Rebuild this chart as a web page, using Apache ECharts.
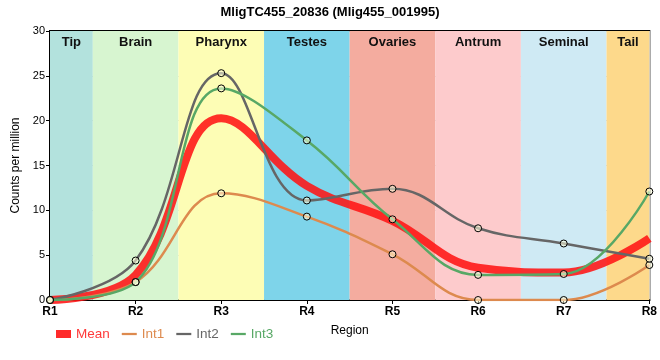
<!DOCTYPE html>
<html><head><meta charset="utf-8">
<script src="https://cdn.jsdelivr.net/npm/echarts@6/dist/echarts.min.js"></script>
<style>html,body{margin:0;padding:0;background:#fff}#c{width:660px;height:360px}</style>
</head><body><div id="c"></div>
<script>
const categories = ['R1','R2','R3','R4','R5','R6','R7','R8'];
const int1 = [0, 2.0, 11.9, 9.3, 5.1, 0, 0, 3.9];
const int2 = [0, 4.4, 25.3, 11.1, 12.4, 8.0, 6.3, 4.6];
const int3 = [0, 2.0, 23.6, 17.8, 9.0, 2.8, 2.9, 12.1];
const mean = int1.map((v,i)=> (v + int2[i] + int3[i]) / 3);
const bandNames = ['Tip','Brain','Pharynx','Testes','Ovaries','Antrum','Seminal','Tail'];
const bandStarts = [0, 0.5, 1.5, 2.5, 3.5, 4.5, 5.5, 6.5];
const bandEnds = [0.5, 1.5, 2.5, 3.5, 4.5, 5.5, 6.5, 7];
const bandColors = ['#b3e2dd','#d7f5d0','#fdfdb5','#7ed4ea','#f4ac9f','#fdcbcc','#cfeaf4','#fdd98b'];
const yTicks = [0,5,10,15,20,25,30];

const FONT = '"Liberation Sans", Arial, sans-serif';
const pts = arr => arr.map((v,i)=>[i,v]);
const SMOOTH = 0.4;
const sym = {symbol:'circle', symbolSize:7, itemStyle:{color:'rgba(255,255,220,0.55)', borderColor:'#000', borderWidth:1}};

const chart = echarts.init(document.getElementById('c'), null, {renderer:'canvas'});
chart.setOption({
  animation:false,
  textStyle:{fontFamily:FONT},
  title:{text:'MligTC455_20836 (Mlig455_001995)', left:'center', top:1,
    textStyle:{fontSize:13, fontWeight:'bold', color:'#000', fontFamily:FONT}},
  grid:{left:50, right:10, top:31, bottom:60, show:true, borderColor:'#000', borderWidth:2},
  xAxis:{type:'value', min:0, max:categories.length-1, interval:1,
    name:'Region', nameLocation:'middle', nameGap:25,
    nameTextStyle:{fontSize:12, color:'#000', fontFamily:FONT},
    axisLine:{show:true, lineStyle:{color:'#000', width:2}},
    axisTick:{show:true, length:4, lineStyle:{color:'#000'}},
    axisLabel:{formatter:v=>categories[v] ?? '', color:'#000', fontSize:12, fontWeight:'bold', margin:6, fontFamily:FONT},
    splitLine:{show:true, lineStyle:{color:'#c8c8c8', width:1}}},
  yAxis:{type:'value', min:0, max:30, interval:5,
    name:'Counts per million', nameLocation:'middle', nameGap:28,
    nameTextStyle:{fontSize:12, color:'#000', fontFamily:FONT},
    axisLine:{show:true, lineStyle:{color:'#000', width:2}},
    axisTick:{show:true, length:4, lineStyle:{color:'#000'}},
    axisLabel:{formatter:v=>yTicks.includes(v)?String(v):'', color:'#000', fontSize:11, margin:5, fontFamily:FONT},
    splitLine:{show:true, lineStyle:{color:'#c8c8c8', width:1}}},
  legend:{left:51, top:322, itemWidth:15, itemHeight:8, itemGap:12,
    textStyle:{fontSize:13.5, fontFamily:FONT},
    data:[
      {name:'Mean', icon:'rect', itemStyle:{color:'#ff2a2a', borderWidth:0}, textStyle:{color:'#ff3a3a'}},
      {name:'Int1', icon:'path://M0,0 H20 V3 H0 Z', itemStyle:{color:'#dd8a4e', borderWidth:0}, textStyle:{color:'#dd8a4e'}},
      {name:'Int2', icon:'path://M0,0 H20 V3 H0 Z', itemStyle:{color:'#666666', borderWidth:0}, textStyle:{color:'#666666'}},
      {name:'Int3', icon:'path://M0,0 H20 V3 H0 Z', itemStyle:{color:'#58a866', borderWidth:0}, textStyle:{color:'#58a866'}}
    ]},
  series:[
    {name:'Bands', type:'line', data:[], silent:true,
      markArea:{silent:true,
        label:{position:'insideTop', distance:5, fontSize:13, fontWeight:'bold', color:'#111', fontFamily:FONT},
        data:bandNames.map((n,i)=>[{name:n, xAxis:bandStarts[i], itemStyle:{color:bandColors[i], opacity:1}}, {xAxis:bandEnds[i]}])}},
    {name:'Int1', type:'line', data:pts(int1), smooth:SMOOTH, ...sym,
      lineStyle:{color:'#dd8a4e', width:2.5}, color:'#dd8a4e', z:3},
    {name:'Int2', type:'line', data:pts(int2), smooth:SMOOTH, ...sym,
      lineStyle:{color:'#666666', width:2.5}, color:'#666666', z:3},
    {name:'Int3', type:'line', data:pts(int3), smooth:SMOOTH, ...sym,
      lineStyle:{color:'#58a866', width:2.5}, color:'#58a866', z:3},
    {name:'Mean', type:'line', data:pts(mean), smooth:SMOOTH, showSymbol:false, symbol:'none',
      lineStyle:{color:'rgba(255,20,20,0.88)', width:8}, color:'#ff2a2a', z:2}
  ]
});
</script></body></html>
